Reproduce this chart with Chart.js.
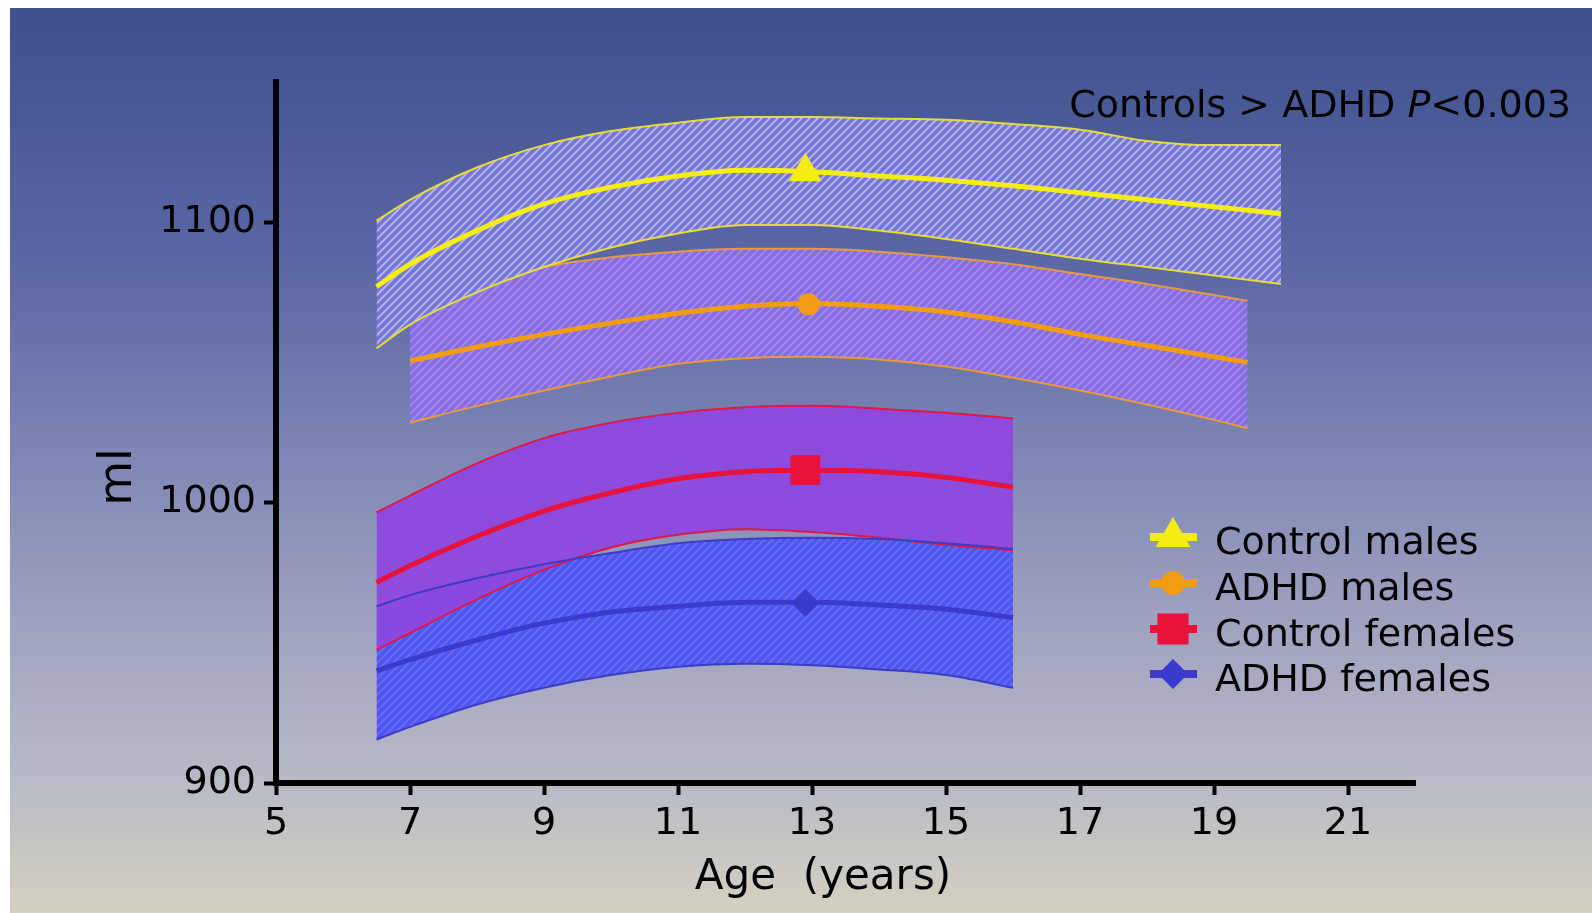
<!DOCTYPE html>
<html>
<head>
<meta charset="utf-8">
<script src="https://cdn.jsdelivr.net/npm/chart.js@4.4.1/dist/chart.umd.min.js"></script>
<style>
  html, body { margin: 0; padding: 0; background: #fff; }
</style>
</head>
<body>
<canvas id="chart" width="1592" height="913"></canvas>
<script>
// ages (years) sampled along each curve
const ageControlMales = [6.5, 7, 8, 9, 10, 11, 12, 13, 14, 15, 16, 17, 18, 19, 20];
const controlMalesMean = [1077, 1085, 1097, 1106.5, 1112.5, 1116.5, 1118.5, 1118, 1116.5, 1115, 1113, 1110.5, 1108, 1105.5, 1103];
const controlMalesUpper = [1100.5, 1108, 1119.5, 1127.5, 1132.5, 1135.5, 1137.5, 1137.5, 1137, 1136.5, 1135, 1133, 1129, 1127.5, 1127.5];
const controlMalesLower = [1055, 1063.5, 1075, 1084, 1091, 1096, 1099, 1099, 1097, 1094, 1090.5, 1087, 1084, 1081, 1078];

const ageAdhdMales = [7, 8, 9, 10, 11, 12, 13, 14, 15, 16, 17, 18, 19, 19.5];
const adhdMalesMean = [1050.5, 1055.5, 1060, 1064, 1067.5, 1070, 1071, 1070, 1068, 1064.5, 1060, 1056, 1052, 1050];
const adhdMalesUpper = [1071, 1078, 1084, 1087.5, 1089.5, 1090.5, 1090.5, 1089.5, 1087.5, 1085, 1081.5, 1078, 1074, 1072];
const adhdMalesLower = [1028.5, 1034.5, 1040, 1045, 1049.5, 1051.5, 1052, 1051, 1048.5, 1044.5, 1040, 1035, 1029.5, 1026.5];

const ageFemales = [6.5, 7, 8, 9, 10, 11, 12, 13, 14, 15, 16];
const controlFemalesMean = [971.5, 977.5, 988, 997, 1003.5, 1008.5, 1011, 1011.5, 1011, 1009, 1005.5];
const controlFemalesUpper = [996.5, 1002.5, 1014, 1023, 1028.5, 1032, 1034, 1034.5, 1033.5, 1032, 1030];
const controlFemalesLower = [947.5, 953.5, 965.5, 976, 984, 988.5, 990.5, 989.5, 987.5, 985, 983];

const adhdFemalesMean = [940, 944, 951, 957, 961, 963, 964.5, 964.5, 963.5, 962, 959];
const adhdFemalesUpper = [963, 967, 973, 978, 982, 985.5, 987, 987.5, 987, 985.5, 983.5];
const adhdFemalesLower = [915.5, 920, 928, 934, 938.5, 941.5, 942.5, 942, 940.5, 938.5, 934];

// highlighted marker on each mean curve
const markerAge = [12.9, 12.95, 12.9, 12.9];
const markerValue = [1118, 1070.7, 1011.6, 964.2];

const seriesLabels = ["Control males", "ADHD males", "Control females", "ADHD females"];
const xTicks = [5, 7, 9, 11, 13, 15, 17, 19, 21];
const yTicks = [900, 1000, 1100];

const FONT = "'DejaVu Sans', Verdana, sans-serif";
const canvas = document.getElementById("chart");
const ctx = canvas.getContext("2d");

// diagonal hatch fill like the original shaded bands
function hatch(base, stripe) {
  const c = document.createElement("canvas");
  c.width = 8;
  c.height = 8;
  const g = c.getContext("2d");
  g.fillStyle = base;
  g.fillRect(0, 0, 8, 8);
  g.strokeStyle = stripe;
  g.lineWidth = 2;
  g.beginPath();
  g.moveTo(0, 8); g.lineTo(8, 0);
  g.moveTo(-2, 2); g.lineTo(2, -2);
  g.moveTo(6, 10); g.lineTo(10, 6);
  g.stroke();
  return ctx.createPattern(c, "repeat");
}

const groups = [
  { ages: ageControlMales, mean: controlMalesMean, upper: controlMalesUpper, lower: controlMalesLower,
    line: "#f4ec14", edge: "#e6dc38", fill: hatch("rgb(116,116,222)", "rgb(182,182,224)"),
    style: "triangle", radius: 19, order: 1 },
  { ages: ageAdhdMales, mean: adhdMalesMean, upper: adhdMalesUpper, lower: adhdMalesLower,
    line: "#f29c12", edge: "#e89a3a", fill: hatch("rgb(134,106,232)", "rgb(160,138,226)"),
    style: "circle", radius: 11, order: 3 },
  { ages: ageFemales, mean: controlFemalesMean, upper: controlFemalesUpper, lower: controlFemalesLower,
    line: "#e8123a", edge: "#e01848", fill: hatch("rgba(128,76,232,0.92)", "rgba(168,64,206,0.92)"),
    style: "rect", radius: 21, order: 5 },
  { ages: ageFemales, mean: adhdFemalesMean, upper: adhdFemalesUpper, lower: adhdFemalesLower,
    line: "#3a3acc", edge: "#3c3cc4", fill: hatch("rgb(80,84,242)", "rgb(100,108,240)"),
    style: "rectRot", radius: 14, order: 7 },
];

function points(xs, ys) {
  return xs.map((x, i) => ({ x: x, y: ys[i] }));
}

const curve = { cubicInterpolationMode: "monotone", pointRadius: 0 };

const datasets = [];
groups.forEach((g, i) => {
  datasets.push({
    ...curve,
    label: seriesLabels[i] + " upper",
    data: points(g.ages, g.upper),
    borderColor: g.edge,
    borderWidth: 2,
    fill: false,
    // the ADHD females upper edge shows through the control females band
    order: i === 3 ? 5.5 : g.order + 1,
  });
  datasets.push({
    ...curve,
    label: seriesLabels[i] + " lower",
    data: points(g.ages, g.lower),
    borderColor: g.edge,
    borderWidth: 2,
    fill: "-1",
    backgroundColor: g.fill,
    order: g.order + 1,
  });
  datasets.push({
    ...curve,
    label: seriesLabels[i],
    data: points(g.ages, g.mean),
    borderColor: g.line,
    borderWidth: 5,
    fill: false,
    order: g.order,
  });
  datasets.push({
    label: seriesLabels[i] + " marker",
    data: [{ x: markerAge[i], y: markerValue[i] }],
    showLine: false,
    pointStyle: g.style,
    pointRadius: g.radius,
    pointBackgroundColor: g.line,
    pointBorderWidth: 0,
    fill: false,
    order: 0,
  });
});

const backdrop = {
  id: "backdrop",
  beforeDraw(chart) {
    const c = chart.ctx;
    c.save();
    c.fillStyle = "#fff";
    c.fillRect(0, 0, chart.width, chart.height);
    const grad = c.createLinearGradient(0, 8, 0, chart.height);
    grad.addColorStop(0, "#40508f");
    grad.addColorStop(0.12, "#4a5a97");
    grad.addColorStop(0.3, "#5e69a6");
    grad.addColorStop(0.5, "#8087b5");
    grad.addColorStop(0.7, "#a2a5c0");
    grad.addColorStop(0.86, "#b9bbc6");
    grad.addColorStop(1, "#d4d1c0");
    c.fillStyle = grad;
    c.fillRect(10, 8, chart.width - 10, chart.height - 8);
    c.restore();
  },
};

const labels = {
  id: "labels",
  afterDraw(chart) {
    const c = chart.ctx;
    c.save();
    c.fillStyle = "#000";

    // axis titles
    c.font = "42px " + FONT;
    c.textAlign = "center";
    c.textBaseline = "alphabetic";
    c.fillText("Age  (years)", 823, 889);
    c.save();
    c.translate(131, 477);
    c.rotate(-Math.PI / 2);
    c.font = "46px " + FONT;
    c.fillText("ml", 0, 0);
    c.restore();

    // significance note, right aligned
    c.textAlign = "left";
    const parts = [["Controls > ADHD ", "normal"], ["P", "italic"], ["<0.003", "normal"]];
    let w = 0;
    parts.forEach(([t, s]) => { c.font = s + " 38px " + FONT; w += c.measureText(t).width; });
    let x = 1571 - w;
    parts.forEach(([t, s]) => {
      c.font = s + " 38px " + FONT;
      c.fillText(t, x, 117);
      x += c.measureText(t).width;
    });

    // legend
    const ys = [537, 583, 629, 674];
    groups.forEach((g, i) => {
      const y = ys[i];
      c.strokeStyle = g.line;
      c.lineWidth = 8;
      c.beginPath();
      c.moveTo(1150, y);
      c.lineTo(1197, y);
      c.stroke();
      c.fillStyle = g.line;
      Chart.helpers.drawPoint(c, { pointStyle: g.style, radius: g.radius + 1, rotation: 0, borderWidth: 0 }, 1173, y);
      c.fillStyle = "#000";
      c.font = "38px " + FONT;
      c.fillText(seriesLabels[i], 1215, y + 17);
    });
    c.restore();
  },
};

new Chart(ctx, {
  type: "line",
  data: { datasets: datasets },
  options: {
    responsive: false,
    animation: false,
    events: [],
    layout: { padding: { left: 0, top: 82, right: 177, bottom: 0 } },
    plugins: {
      legend: { display: false },
      tooltip: { enabled: false },
    },
    scales: {
      x: {
        type: "linear",
        min: 5,
        max: 22,
        afterBuildTicks: (scale) => { scale.ticks = xTicks.map((v) => ({ value: v })); },
        afterFit: (scale) => { scale.height = 130; },
        border: { display: true, color: "#000", width: 6 },
        grid: { drawOnChartArea: false, drawTicks: true, tickLength: 12, tickWidth: 4, tickColor: "#000" },
        ticks: { color: "#000", padding: 6, maxRotation: 0, font: { family: FONT, size: 38 }, callback: (v) => String(v) },
      },
      y: {
        type: "linear",
        min: 900,
        max: 1150,
        afterBuildTicks: (scale) => { scale.ticks = yTicks.map((v) => ({ value: v })); },
        afterFit: (scale) => { scale.width = 276; },
        border: { display: true, color: "#000", width: 6 },
        grid: { drawOnChartArea: false, drawTicks: true, tickLength: 12, tickWidth: 4, tickColor: "#000" },
        ticks: { color: "#000", padding: 8, font: { family: FONT, size: 38 }, callback: (v) => String(v) },
      },
    },
  },
  plugins: [backdrop, labels],
});
</script>
</body>
</html>
